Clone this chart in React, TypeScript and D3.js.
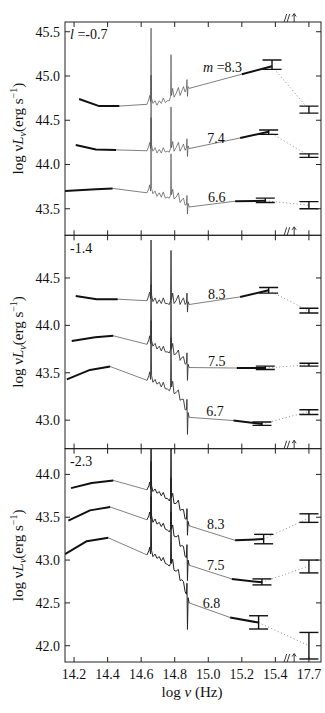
import React from 'react';
import * as d3 from 'd3';

// ---------- data ----------
const X_TICKS = [14.2, 14.4, 14.6, 14.8, 15.0, 15.2, 15.4];
const XRAY_TICK_LABEL = '17.7';
const XRAY_AXIS_POS = 15.6; // position of log nu = 17.7 on the broken axis

const SPEC_X = [14.635, 14.646, 14.651, 14.656, 14.659, 14.662, 14.670, 14.683, 14.694, 14.708,
  14.720, 14.732, 14.744, 14.756, 14.768, 14.775, 14.778, 14.781, 14.788, 14.796,
  14.808, 14.822, 14.832, 14.842, 14.852, 14.862, 14.870, 14.873, 14.876, 14.880, 14.886];

// panel l = -0.7
const A_Y_TICKS = [43.5, 44.0, 44.5, 45.0, 45.5];
const A83_IR = [[14.23, 44.74], [14.35, 44.66], [14.47, 44.66]];
const A83_SPEC = [44.68, 44.74, 44.78, 44.71, 45.54, 44.75, 44.69, 44.72, 44.67, 44.72, 44.69, 44.75, 44.70, 44.72, 44.72, 44.77, 45.24, 44.78, 44.86, 44.76, 44.80, 44.87, 44.78, 44.83, 44.88, 44.82, 44.86, 44.96, 44.77, 44.88, 44.86];
const A83_UV = [[15.20, 45.02], [15.38, 45.11]];
const A83_UVERR = [15.38, 45.075, 45.18];
const A83_XRAY = [44.62, 44.58, 44.66];

const A74_IR = [[14.21, 44.22], [14.33, 44.17], [14.45, 44.165]];
const A74_SPEC = [44.155, 44.21, 44.25, 44.18, 45.01, 44.22, 44.15, 44.19, 44.13, 44.17, 44.13, 44.19, 44.14, 44.15, 44.14, 44.18, 44.65, 44.19, 44.26, 44.15, 44.19, 44.25, 44.15, 44.19, 44.23, 44.16, 44.19, 44.29, 44.09, 44.21, 44.18];
const A74_UV = [[15.19, 44.30], [15.36, 44.37]];
const A74_UVERR = [15.36, 44.34, 44.39];
const A74_XRAY = [44.10, 44.08, 44.12];

const A66_IR = [[14.146, 43.70], [14.33, 43.72], [14.43, 43.73]];
const A66_SPEC = [43.68, 43.73, 43.77, 43.70, 44.53, 43.73, 43.67, 43.70, 43.64, 43.68, 43.63, 43.69, 43.62, 43.63, 43.62, 43.65, 44.12, 43.66, 43.72, 43.61, 43.63, 43.68, 43.57, 43.60, 43.62, 43.54, 43.55, 43.65, 43.44, 43.56, 43.52];
const A66_UV = [[15.16, 43.585], [15.34, 43.59]];
const A66_UVERR = [15.34, 43.57, 43.62];
const A66_XRAY = [43.54, 43.50, 43.58];

// panel -1.4
const B_Y_TICKS = [43.0, 43.5, 44.0, 44.5];
const B83_IR = [[14.21, 44.31], [14.335, 44.276], [14.46, 44.276]];
const B83_SPEC = [44.26, 44.32, 44.35, 44.28, 44.90, 44.32, 44.25, 44.29, 44.23, 44.27, 44.23, 44.29, 44.23, 44.23, 44.22, 44.26, 44.79, 44.27, 44.34, 44.23, 44.26, 44.32, 44.22, 44.26, 44.29, 44.22, 44.24, 44.34, 44.14, 44.25, 44.22];
const B83_UV = [[15.19, 44.30], [15.36, 44.37]];
const B83_UVERR = [15.36, 44.34, 44.40];
const B83_XRAY = [44.15, 44.13, 44.18];

const B75_IR = [[14.186, 43.836], [14.326, 43.875], [14.434, 43.89]];
const B75_SPEC = [43.80, 43.85, 43.89, 43.81, 44.43, 43.84, 43.78, 43.81, 43.75, 43.78, 43.73, 43.78, 43.72, 43.72, 43.71, 43.74, 44.27, 43.75, 43.81, 43.69, 43.70, 43.74, 43.63, 43.66, 43.67, 43.59, 43.60, 43.71, 43.42, 43.59, 43.555];
const B75_UV = [[15.17, 43.55], [15.34, 43.55]];
const B75_UVERR = [15.34, 43.535, 43.57];
const B75_XRAY = [43.584, 43.57, 43.60];

const B67_IR = [[14.157, 43.43], [14.295, 43.53], [14.415, 43.566]];
const B67_SPEC = [43.42, 43.47, 43.51, 43.43, 44.05, 43.47, 43.40, 43.43, 43.38, 43.40, 43.35, 43.40, 43.33, 43.33, 43.31, 43.34, 43.87, 43.35, 43.41, 43.28, 43.29, 43.32, 43.21, 43.22, 43.22, 43.11, 43.11, 43.22, 42.85, 43.08, 43.03];
const B67_UV = [[15.15, 42.996], [15.32, 42.96]];
const B67_UVERR = [15.32, 42.945, 42.98];
const B67_XRAY = [43.09, 43.06, 43.11];

// panel -2.3
const C_Y_TICKS = [42.0, 42.5, 43.0, 43.5, 44.0];
const C83_IR = [[14.182, 43.84], [14.305, 43.90], [14.434, 43.93]];
const C83_SPEC = [43.82, 43.87, 43.91, 43.83, 44.50, 43.87, 43.80, 43.83, 43.78, 43.80, 43.75, 43.79, 43.72, 43.72, 43.69, 43.73, 44.33, 43.73, 43.78, 43.66, 43.66, 43.70, 43.58, 43.59, 43.59, 43.48, 43.48, 43.60, 43.29, 43.45, 43.40];
const C83_UV = [[15.16, 43.23], [15.33, 43.245]];
const C83_UVERR = [15.33, 43.19, 43.30];
const C83_XRAY = [43.49, 43.44, 43.54];

const C75_IR = [[14.166, 43.46], [14.295, 43.58], [14.415, 43.62]];
const C75_SPEC = [43.47, 43.52, 43.56, 43.48, 44.15, 43.52, 43.44, 43.48, 43.42, 43.44, 43.39, 43.43, 43.36, 43.35, 43.33, 43.36, 43.96, 43.36, 43.41, 43.28, 43.27, 43.29, 43.16, 43.17, 43.16, 43.04, 43.03, 43.18, 42.76, 43.00, 42.94];
const C75_UV = [[15.14, 42.78], [15.32, 42.74]];
const C75_UVERR = [15.32, 42.71, 42.78];
const C75_XRAY = [42.93, 42.85, 43.00];

const C68_IR = [[14.146, 43.07], [14.276, 43.22], [14.404, 43.26]];
const C68_SPEC = [43.06, 43.11, 43.15, 43.07, 43.74, 43.11, 43.04, 43.07, 43.02, 43.04, 42.99, 43.03, 42.96, 42.95, 42.93, 42.96, 43.56, 42.96, 43.01, 42.88, 42.87, 42.89, 42.76, 42.77, 42.75, 42.63, 42.60, 42.73, 42.19, 42.56, 42.50];
const C68_UV = [[15.13, 42.33], [15.30, 42.27]];
const C68_UVERR = [15.30, 42.195, 42.35];
const C68_XRAY = [42.0, 41.845, 42.155];

const PANEL_LABELS = ['-0.7', '-1.4', '-2.3'];
const A_MASS = ['8.3', '7.4', '6.6'];
const B_MASS = ['8.3', '7.5', '6.7'];
const C_MASS = ['8.3', '7.5', '6.8'];

// ---------- layout ----------
const W = 325, H = 713;
const LEFT = 65, RIGHT = 321;
const PANEL_TOP = [22, 235.3, 448.7];
const PANEL_H = 213.3;
const FONT = 'Liberation Serif, Times New Roman, Times, serif';

type Curve = {
  ir: number[][]; spec: number[]; uv: number[][]; uverr: number[]; xray: number[];
  mass: string; lx: number; ly: number; prefix?: boolean;
};
type Panel = { domain: [number, number]; ticks: number[]; label: string; curves: Curve[]; specW: number; specC: string };

const PANELS: Panel[] = [
  {
    domain: [43.2, 45.61], ticks: A_Y_TICKS, label: PANEL_LABELS[0], specW: 0.65, specC: '#444',
    curves: [
      { ir: A83_IR, spec: A83_SPEC, uv: A83_UV, uverr: A83_UVERR, xray: A83_XRAY, mass: A_MASS[0], lx: 15.085, ly: 45.045, prefix: true },
      { ir: A74_IR, spec: A74_SPEC, uv: A74_UV, uverr: A74_UVERR, xray: A74_XRAY, mass: A_MASS[1], lx: 15.046, ly: 44.243 },
      { ir: A66_IR, spec: A66_SPEC, uv: A66_UV, uverr: A66_UVERR, xray: A66_XRAY, mass: A_MASS[2], lx: 15.05, ly: 43.576 },
    ],
  },
  {
    domain: [42.70, 44.95], ticks: B_Y_TICKS, label: PANEL_LABELS[1], specW: 0.9, specC: '#333',
    curves: [
      { ir: B83_IR, spec: B83_SPEC, uv: B83_UV, uverr: B83_UVERR, xray: B83_XRAY, mass: B_MASS[0], lx: 15.05, ly: 44.278 },
      { ir: B75_IR, spec: B75_SPEC, uv: B75_UV, uverr: B75_UVERR, xray: B75_XRAY, mass: B_MASS[1], lx: 15.05, ly: 43.574 },
      { ir: B67_IR, spec: B67_SPEC, uv: B67_UV, uverr: B67_UVERR, xray: B67_XRAY, mass: B_MASS[2], lx: 15.04, ly: 43.047 },
    ],
  },
  {
    domain: [41.81, 44.30], ticks: C_Y_TICKS, label: PANEL_LABELS[2], specW: 1.0, specC: '#222',
    curves: [
      { ir: C83_IR, spec: C83_SPEC, uv: C83_UV, uverr: C83_UVERR, xray: C83_XRAY, mass: C_MASS[0], lx: 15.044, ly: 43.363 },
      { ir: C75_IR, spec: C75_SPEC, uv: C75_UV, uverr: C75_UVERR, xray: C75_XRAY, mass: C_MASS[1], lx: 15.044, ly: 42.885 },
      { ir: C68_IR, spec: C68_SPEC, uv: C68_UV, uverr: C68_UVERR, xray: C68_XRAY, mass: C_MASS[2], lx: 15.02, ly: 42.445 },
    ],
  },
];

const x = d3.scaleLinear().domain([14.146, 15.672]).range([LEFT, RIGHT]);

function BreakMark({ yb }: { yb: number }) {
  const bx = x(15.5) - 8;
  return (
    <g stroke="#222" strokeWidth={0.9} fill="none">
      <line x1={bx} y1={yb} x2={bx + 2.5} y2={yb - 8} />
      <line x1={bx + 3} y1={yb} x2={bx + 5.5} y2={yb - 8} />
      <line x1={bx + 10} y1={yb} x2={bx + 10} y2={yb - 8} />
      <path d={`M${bx + 8} ${yb - 5.5} L${bx + 10} ${yb - 8.5} L${bx + 12} ${yb - 5.5}`} />
    </g>
  );
}

function PanelView({ p, i }: { p: Panel; i: number }) {
  const top = PANEL_TOP[i];
  const bottom = top + PANEL_H;
  const y = d3.scaleLinear().domain(p.domain).range([bottom, top]);
  const line = d3.line<number[]>().x(d => x(d[0])).y(d => y(d[1]));
  const xTickVals = [...X_TICKS, XRAY_AXIS_POS];
  const tl = 5;
  const clipId = `clip${i}`;
  return (
    <g>
      <defs>
        <clipPath id={clipId}>
          <rect x={LEFT} y={top} width={RIGHT - LEFT} height={PANEL_H} />
        </clipPath>
      </defs>
      <g clipPath={`url(#${clipId})`}>
        {p.curves.map((c, k) => {
          const spec = SPEC_X.map((sx, j) => [sx, c.spec[j]]);
          const irEnd = c.ir[c.ir.length - 1];
          const uvEnd = c.uv[c.uv.length - 1];
          const capW = 9.5;
          const xr = x(XRAY_AXIS_POS);
          return (
            <g key={k}>
              <path d={line([irEnd, spec[0]]) || ''} stroke="#555" strokeWidth={0.75} fill="none" />
              <path d={line([spec[spec.length - 1], c.uv[0]]) || ''} stroke="#555" strokeWidth={0.75} fill="none" />
              <path d={line(c.ir) || ''} stroke="#111" strokeWidth={2} fill="none" strokeLinejoin="round" />
              <path d={line(c.uv) || ''} stroke="#111" strokeWidth={2} fill="none" />
              <path d={line(spec) || ''} stroke={p.specC} strokeWidth={p.specW} fill="none" strokeLinejoin="round" />
              <path d={line([uvEnd, [XRAY_AXIS_POS, c.xray[0]]]) || ''} stroke="#888" strokeWidth={1} strokeDasharray="1 2.5" fill="none" />
              <g stroke="#111" strokeWidth={1.4}>
                <line x1={x(c.uverr[0])} x2={x(c.uverr[0])} y1={y(c.uverr[1])} y2={y(c.uverr[2])} />
                <line x1={x(c.uverr[0]) - capW} x2={x(c.uverr[0]) + capW} y1={y(c.uverr[1])} y2={y(c.uverr[1])} />
                <line x1={x(c.uverr[0]) - capW} x2={x(c.uverr[0]) + capW} y1={y(c.uverr[2])} y2={y(c.uverr[2])} />
              </g>
              <g stroke="#111" strokeWidth={1.4}>
                <line x1={xr} x2={xr} y1={y(c.xray[1])} y2={y(c.xray[2])} />
                <line x1={xr - capW} x2={xr + capW} y1={y(c.xray[1])} y2={y(c.xray[1])} />
                <line x1={xr - capW} x2={xr + capW} y1={y(c.xray[2])} y2={y(c.xray[2])} />
              </g>
            </g>
          );
        })}
      </g>
      {p.curves.map((c, k) => (
        <text key={'l' + k} x={x(c.lx)} y={y(c.ly)} textAnchor="middle" fontFamily={FONT} fontSize={14} fill="#111">
          {c.prefix ? (<><tspan fontStyle="italic">m</tspan><tspan> =</tspan></>) : null}
          {c.mass}
        </text>
      ))}
      <text x={LEFT + 5} y={top + 17.3} fontFamily={FONT} fontSize={14} fill="#111">
        {i === 0 ? (<><tspan fontStyle="italic">l</tspan><tspan> =</tspan></>) : null}
        {p.label}
      </text>
      <rect x={LEFT} y={top} width={RIGHT - LEFT} height={PANEL_H} fill="none" stroke="#222" strokeWidth={1} />
      {xTickVals.map((t, k) => (
        <g key={'xt' + k} stroke="#222" strokeWidth={1}>
          <line x1={x(t)} x2={x(t)} y1={top} y2={top + tl} />
          <line x1={x(t)} x2={x(t)} y1={bottom} y2={bottom - tl} />
        </g>
      ))}
      {p.ticks.map((t, k) => (
        <g key={'yt' + k}>
          <line x1={LEFT} x2={LEFT + tl} y1={y(t)} y2={y(t)} stroke="#222" />
          <line x1={RIGHT} x2={RIGHT - tl} y1={y(t)} y2={y(t)} stroke="#222" />
          <text x={LEFT - 5} y={y(t)} dy="0.35em" textAnchor="end" fontFamily={FONT} fontSize={14} fill="#111">
            {d3.format('.1f')(t)}
          </text>
        </g>
      ))}
      <text transform={`translate(23, ${(top + bottom) / 2}) rotate(-90)`} textAnchor="middle" fontFamily={FONT} fontSize={15} fill="#111">
        log ν<tspan fontStyle="italic">L</tspan>
        <tspan fontSize={10} dy={3} fontStyle="italic">ν</tspan>
        <tspan dy={-3}>(erg s</tspan>
        <tspan fontSize={10} dy={-6}>−1</tspan>
        <tspan dy={6}>)</tspan>
      </text>
      <BreakMark yb={top} />
    </g>
  );
}

export default function App() {
  const bottom = PANEL_TOP[2] + PANEL_H;
  const xTickVals = [...X_TICKS, XRAY_AXIS_POS];
  return (
    <svg width={W} height={H} style={{ display: 'block', position: 'absolute', left: 0, top: 0, background: '#fff' }}>
      <rect x={0} y={0} width={W} height={H} fill="#fff" />
      {PANELS.map((p, i) => <PanelView key={i} p={p} i={i} />)}
      <BreakMark yb={bottom} />
      {xTickVals.map((t, k) => (
        <text key={k} x={x(t)} y={bottom + 17} textAnchor="middle" fontFamily={FONT} fontSize={14} fill="#111">
          {t === XRAY_AXIS_POS ? XRAY_TICK_LABEL : d3.format('.1f')(t)}
        </text>
      ))}
      <text x={192} y={bottom + 35} textAnchor="middle" fontFamily={FONT} fontSize={15} fill="#111">
        log <tspan fontStyle="italic">ν</tspan> (Hz)
      </text>
    </svg>
  );
}
